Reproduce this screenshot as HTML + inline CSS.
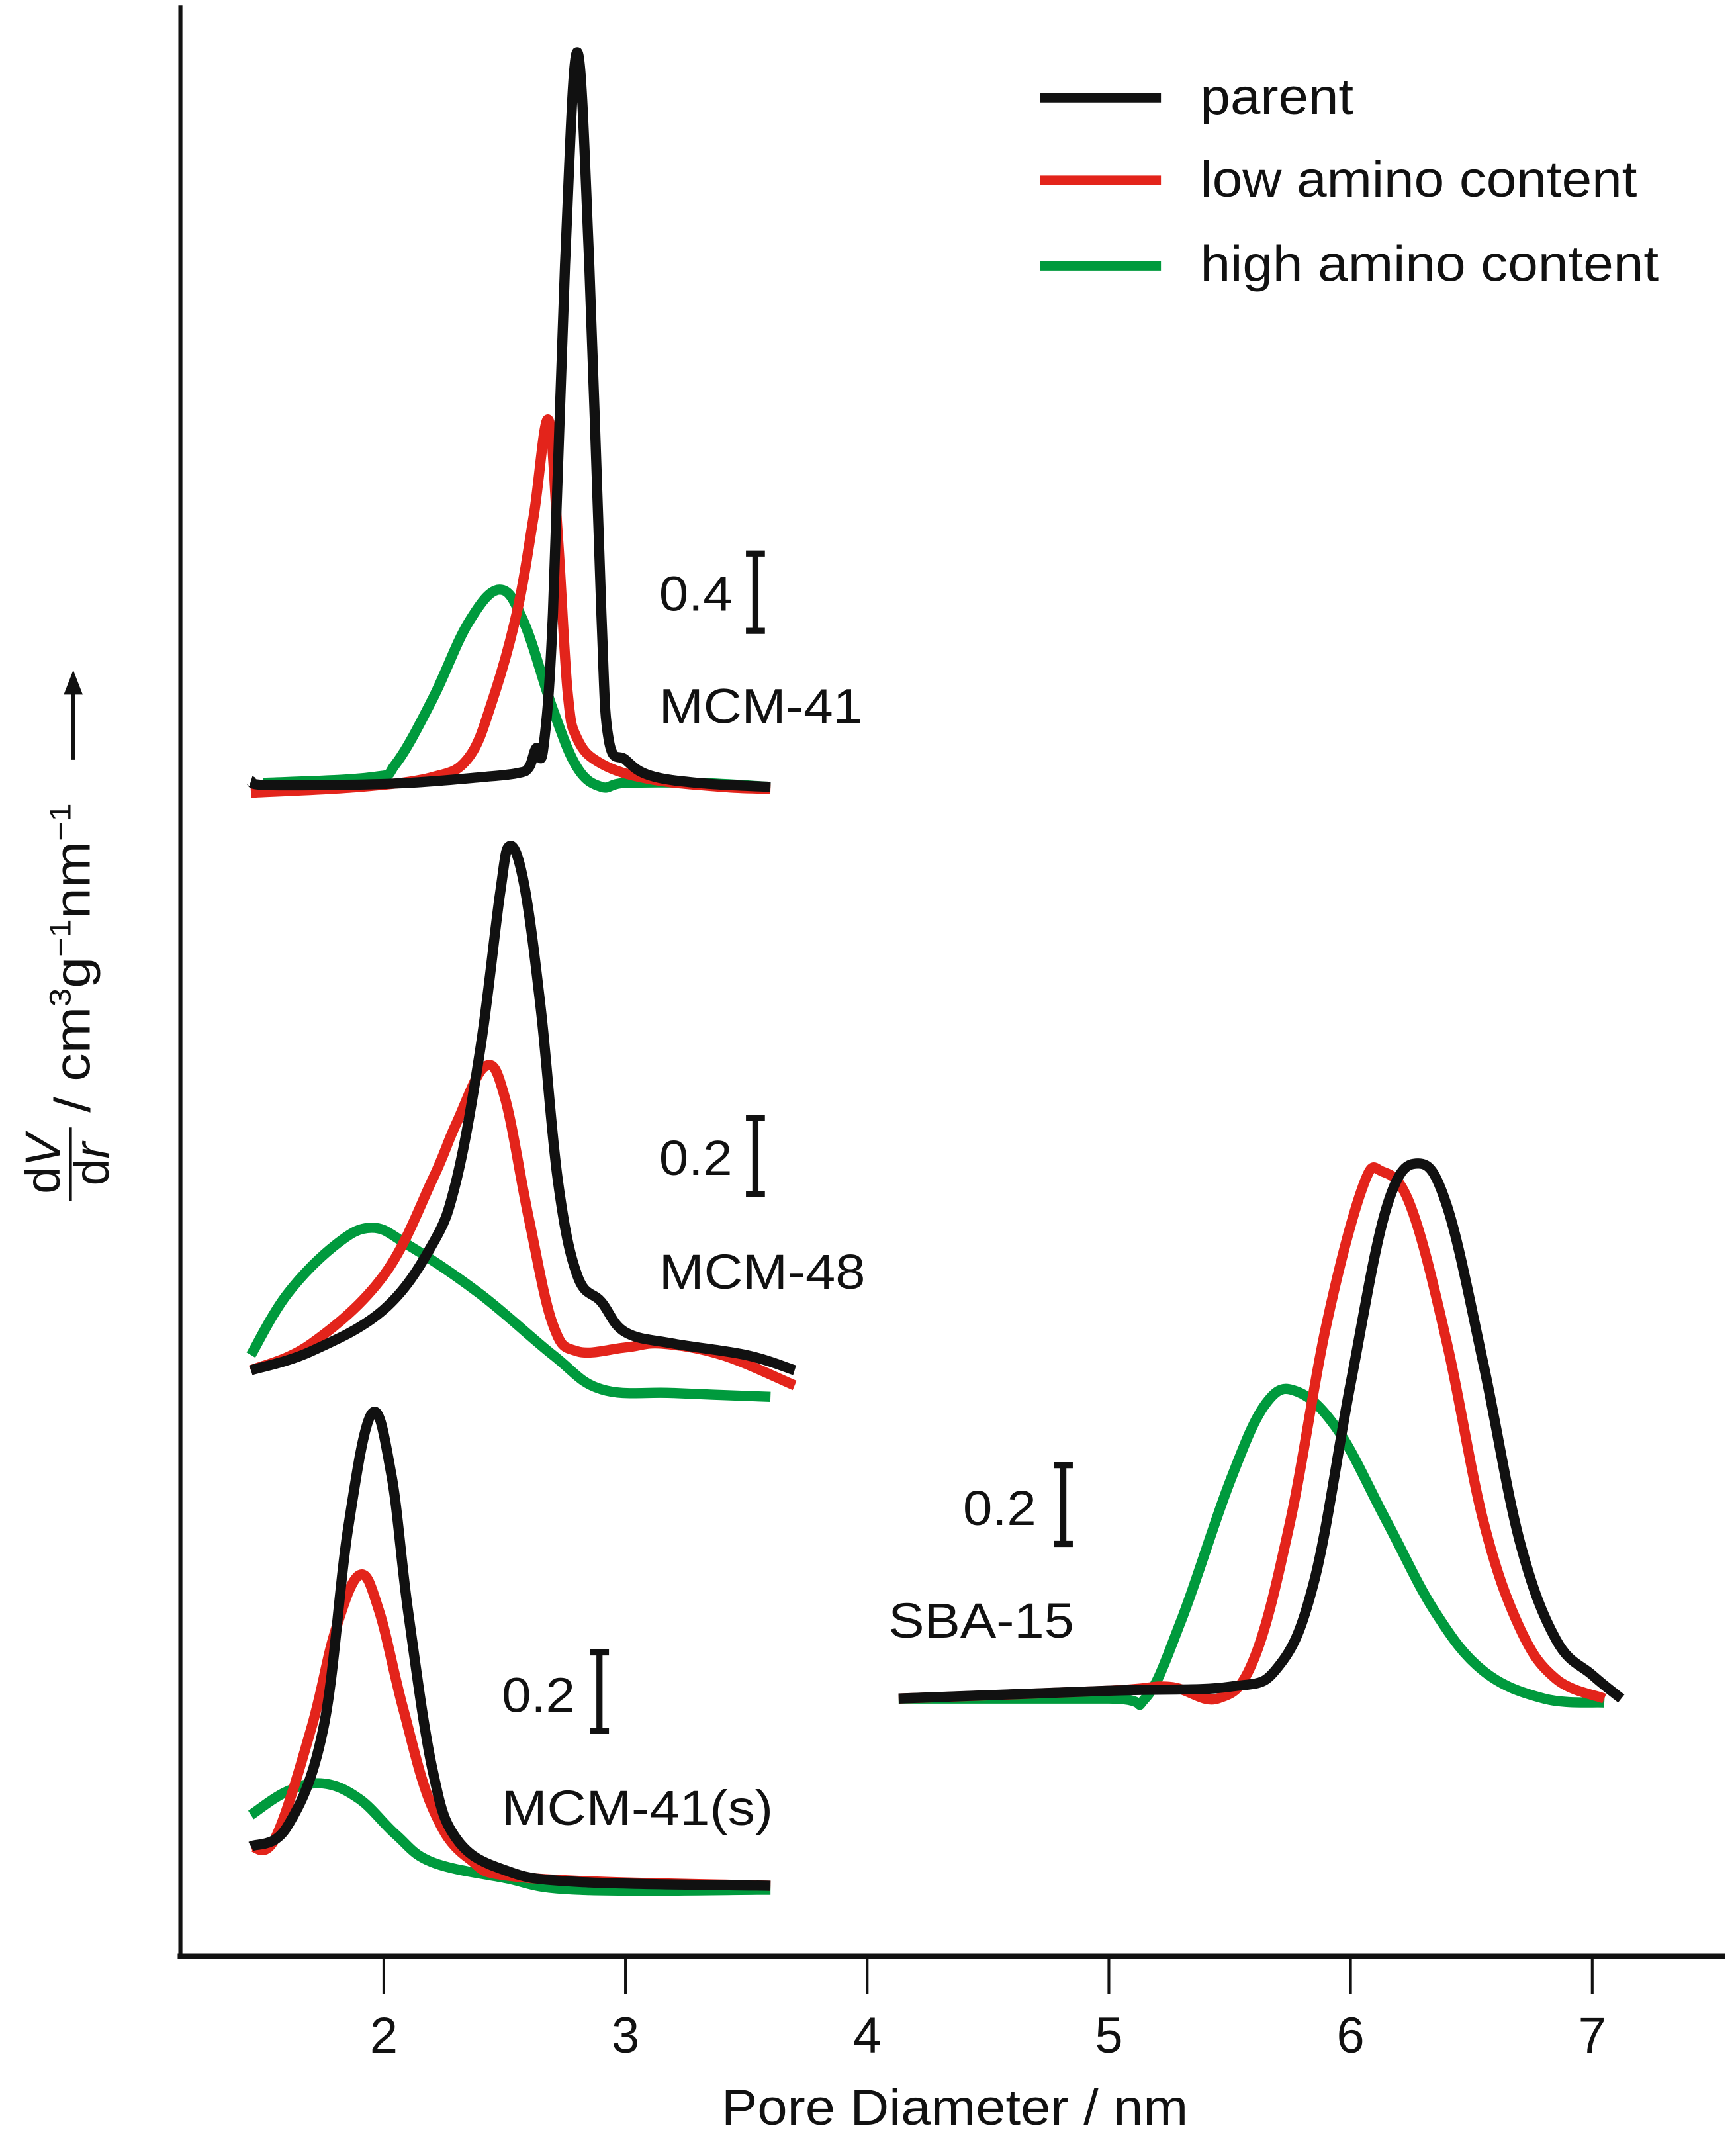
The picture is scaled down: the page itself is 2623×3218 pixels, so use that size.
<!DOCTYPE html>
<html><head><meta charset="utf-8"><style>
html,body{margin:0;padding:0;background:#fff}
svg{display:block}
text{font-family:"Liberation Sans",Arial,sans-serif;fill:#111}
</style></head><body>
<svg id="chart" width="2623" height="3218" viewBox="0 0 1280 1570" preserveAspectRatio="none" xmlns="http://www.w3.org/2000/svg">
<g id="axes">
 <line x1="133" y1="4" x2="133" y2="1443" stroke="#111" stroke-width="3"/>
 <line x1="131" y1="1442" x2="1272" y2="1442" stroke="#111" stroke-width="4"/>
</g>
<g id="ticks"></g>
<text x="704" y="1566" font-size="37" text-anchor="middle" textLength="344" lengthAdjust="spacingAndGlyphs">Pore Diameter / nm</text>
<g transform="translate(58,690) rotate(-90)">
 <text x="-168" y="-14" font-size="36" text-anchor="middle">d<tspan font-style="italic">V</tspan></text>
 <line x1="-195" y1="-6" x2="-141" y2="-6" stroke="#111" stroke-width="2"/>
 <text x="-168" y="22" font-size="36" text-anchor="middle">d<tspan font-style="italic">r</tspan></text>
 <text x="-130" y="8" font-size="37" textLength="228" lengthAdjust="spacingAndGlyphs">/ cm<tspan font-size="22" dy="-14">3</tspan><tspan dy="14">g</tspan><tspan font-size="22" dy="-14">−1</tspan><tspan dy="14">nm</tspan><tspan font-size="22" dy="-14">−1</tspan></text>
 <line x1="130" y1="-4" x2="185" y2="-4" stroke="#111" stroke-width="3"/>
 <polygon points="196,-4 178,-11 178,3" fill="#111"/>
</g>
<g id="legend">
 <g><line x1="767" y1="72" x2="856" y2="72" stroke="#111" stroke-width="7"/><text x="885" y="84" font-size="37" textLength="113" lengthAdjust="spacingAndGlyphs">parent</text></g>
 <g><line x1="767" y1="133" x2="856" y2="133" stroke="#e3241b" stroke-width="7"/><text x="885" y="145" font-size="37" textLength="322" lengthAdjust="spacingAndGlyphs">low amino content</text></g>
 <g><line x1="767" y1="196" x2="856" y2="196" stroke="#009a3d" stroke-width="7"/><text x="885" y="207" font-size="37" textLength="338" lengthAdjust="spacingAndGlyphs">high amino content</text></g>
</g>
<g id="series"></g>
<g id="labels"></g>
</svg>
<script>
// x-axis ticks
const xTicks = [2,3,4,5,6,7];
// Panel labels and scale-bar values (data)
const panelNames = ["MCM-41","MCM-48","MCM-41(s)","SBA-15"];
const scaleValues = [0.4,0.2,0.2,0.2];

// MCM-41
const m41X_parent = [1.45,1.5,1.8,2.1,2.4,2.55,2.6,2.63,2.66,2.7,2.75,2.8,2.85,2.9,2.93,3.0,3.1,3.3,3.6];
const m41Y_parent = [0.03,0.01,0.01,0.02,0.05,0.07,0.1,0.2,0.2,0.9,2.7,3.8,2.7,0.9,0.25,0.14,0.06,0.02,0.0];
const m41X_low = [1.45,1.9,2.2,2.35,2.45,2.55,2.62,2.68,2.72,2.76,2.8,2.9,3.1,3.4,3.6];
const m41Y_low = [-0.03,0.0,0.05,0.15,0.45,0.9,1.4,1.9,1.3,0.5,0.25,0.12,0.04,0.0,-0.01];
const m41X_high = [1.5,1.95,2.05,2.2,2.35,2.48,2.58,2.7,2.8,2.9,3.0,3.3,3.6];
const m41Y_high = [0.02,0.05,0.12,0.45,0.85,1.02,0.85,0.4,0.1,0.0,0.02,0.02,0.0];
// MCM-48
const m48X_parent = [1.45,1.7,2.0,2.2,2.3,2.4,2.48,2.52,2.58,2.65,2.72,2.8,2.9,3.0,3.2,3.5,3.7];
const m48Y_parent = [0,0.05,0.16,0.33,0.5,0.85,1.25,1.38,1.28,0.95,0.5,0.25,0.18,0.1,0.07,0.04,0.0];
const m48X_low = [1.45,1.7,2.0,2.2,2.3,2.42,2.5,2.6,2.7,2.8,3.0,3.15,3.4,3.7];
const m48Y_low = [0,0.07,0.25,0.5,0.65,0.8,0.72,0.4,0.12,0.05,0.06,0.07,0.04,-0.04];
const m48X_high = [1.45,1.6,1.8,1.95,2.1,2.4,2.7,2.9,3.2,3.6];
const m48Y_high = [0.04,0.2,0.33,0.375,0.33,0.2,0.04,-0.05,-0.06,-0.07];
// MCM-41(s)
const m41sX_parent = [1.45,1.6,1.75,1.85,1.95,2.03,2.1,2.2,2.3,2.5,2.8,3.6];
const m41sY_parent = [0.1,0.15,0.4,0.9,1.2,1.05,0.7,0.3,0.12,0.04,0.01,0.0];
const m41sX_low = [1.45,1.55,1.7,1.8,1.9,1.98,2.08,2.2,2.35,2.6,3.6];
const m41sY_low = [0.1,0.12,0.4,0.65,0.79,0.7,0.45,0.2,0.07,0.02,0.0];
const m41sX_high = [1.45,1.6,1.75,1.9,2.05,2.2,2.5,2.8,3.6];
const m41sY_high = [0.18,0.24,0.26,0.22,0.13,0.06,0.02,-0.01,-0.01];
// SBA-15
const sbaX_parent = [4.13,5.0,5.5,5.7,5.85,6.0,6.15,6.28,6.4,6.55,6.7,6.85,7.0,7.12];
const sbaY_parent = [0.0,0.02,0.03,0.08,0.3,0.8,1.25,1.36,1.25,0.85,0.4,0.15,0.06,0.0];
const sbaX_low = [4.13,5.0,5.25,5.45,5.6,5.75,5.9,6.05,6.13,6.25,6.4,6.55,6.7,6.85,7.05];
const sbaY_low = [0.0,0.02,0.03,0.0,0.1,0.45,0.95,1.3,1.34,1.25,0.9,0.45,0.18,0.05,0.0];
const sbaX_high = [4.13,5.0,5.15,5.3,5.5,5.65,5.78,5.95,6.15,6.35,6.55,6.8,7.05];
const sbaY_high = [0.0,0.0,0.0,0.2,0.55,0.75,0.78,0.68,0.45,0.22,0.07,0.0,-0.01];

const NS = "http://www.w3.org/2000/svg";
function xPos(v){ return 283 + (v-2)*178.2; }
const panels = [
 {base:580, ppu:142.5, series:[[m41X_parent,m41Y_parent],[m41X_low,m41Y_low],[m41X_high,m41Y_high]],
  valLbl:[486,450], bar:[557,408], nameLbl:[486,533], nameW:150},
 {base:1010, ppu:280, series:[[m48X_parent,m48Y_parent],[m48X_low,m48Y_low],[m48X_high,m48Y_high]],
  valLbl:[486,866], bar:[557,824], nameLbl:[486,950], nameW:152},
 {base:1390, ppu:290, series:[[m41sX_parent,m41sY_parent],[m41sX_low,m41sY_low],[m41sX_high,m41sY_high]],
  valLbl:[370,1262], bar:[442,1218], nameLbl:[370,1345], nameW:200},
 {base:1252, ppu:290, series:[[sbaX_parent,sbaY_parent],[sbaX_low,sbaY_low],[sbaX_high,sbaY_high]],
  valLbl:[710,1124], bar:[784,1080], nameLbl:[655,1207], nameW:137}
];
const colors = ["#111111","#e3241b","#009a3d"];
const seriesNames = ["parent","low-amino","high-amino"];

function smoothPath(pts){
  let d = "M"+pts[0][0].toFixed(1)+","+pts[0][1].toFixed(1);
  for(let i=0;i<pts.length-1;i++){
    const p0=pts[Math.max(i-1,0)], p1=pts[i], p2=pts[i+1], p3=pts[Math.min(i+2,pts.length-1)];
    const t=0.18;
    const c1=[p1[0]+(p2[0]-p0[0])*t, p1[1]+(p2[1]-p0[1])*t];
    const c2=[p2[0]-(p3[0]-p1[0])*t, p2[1]-(p3[1]-p1[1])*t];
    d += " C"+c1[0].toFixed(1)+","+c1[1].toFixed(1)+" "+c2[0].toFixed(1)+","+c2[1].toFixed(1)+" "+p2[0].toFixed(1)+","+p2[1].toFixed(1);
  }
  return d;
}

const tg = document.getElementById("ticks");
xTicks.forEach(t=>{
  const l=document.createElementNS(NS,"line");
  
  
  l.setAttribute("x1",xPos(t)); l.setAttribute("x2",xPos(t));
  l.setAttribute("y1",1443); l.setAttribute("y2",1470);
  l.setAttribute("stroke","#111"); l.setAttribute("stroke-width","2");
  tg.appendChild(l);
  const tx=document.createElementNS(NS,"text");
  
  
  tx.setAttribute("x",xPos(t)); tx.setAttribute("y",1513);
  tx.setAttribute("font-size","37"); tx.setAttribute("text-anchor","middle");
  tx.textContent=t;
  tg.appendChild(tx);
});

const sg=document.getElementById("series"), lg=document.getElementById("labels");
panels.forEach((p,pi)=>{
  const pn = panelNames[pi].toLowerCase().replace(/[()]/g,'');
  [2,1,0].forEach(si=>{
    const xs=p.series[si][0], ys=p.series[si][1];
    const pts=xs.map((x,i)=>[xPos(x), p.base - ys[i]*p.ppu]);
    const path=document.createElementNS(NS,"path");
    
    
    path.setAttribute("d",smoothPath(pts));
    path.setAttribute("fill","none");
    path.setAttribute("stroke",colors[si]);
    path.setAttribute("stroke-width","7.5");
    path.setAttribute("stroke-linejoin","round");
    sg.appendChild(path);
  });
  const v=document.createElementNS(NS,"text");
  
  
  v.setAttribute("x",p.valLbl[0]); v.setAttribute("y",p.valLbl[1]); v.setAttribute("font-size","36");
  v.setAttribute("textLength","54"); v.setAttribute("lengthAdjust","spacingAndGlyphs");
  v.textContent=scaleValues[pi].toFixed(1);
  lg.appendChild(v);
  const h=scaleValues[pi]*p.ppu;
  const bx=p.bar[0], by=p.bar[1];
  const bar=document.createElementNS(NS,"path");
  
  
  bar.setAttribute("d",`M${bx-7},${by} H${bx+7} M${bx},${by} V${by+h} M${bx-7},${by+h} H${bx+7}`);
  bar.setAttribute("stroke","#111"); bar.setAttribute("stroke-width","4.5"); bar.setAttribute("fill","none");
  lg.appendChild(bar);
  const n=document.createElementNS(NS,"text");
  
  
  n.setAttribute("x",p.nameLbl[0]); n.setAttribute("y",p.nameLbl[1]); n.setAttribute("font-size","36");
  n.setAttribute("textLength",p.nameW); n.setAttribute("lengthAdjust","spacingAndGlyphs");
  n.textContent=panelNames[pi];
  lg.appendChild(n);
});
</script>
</body></html>
